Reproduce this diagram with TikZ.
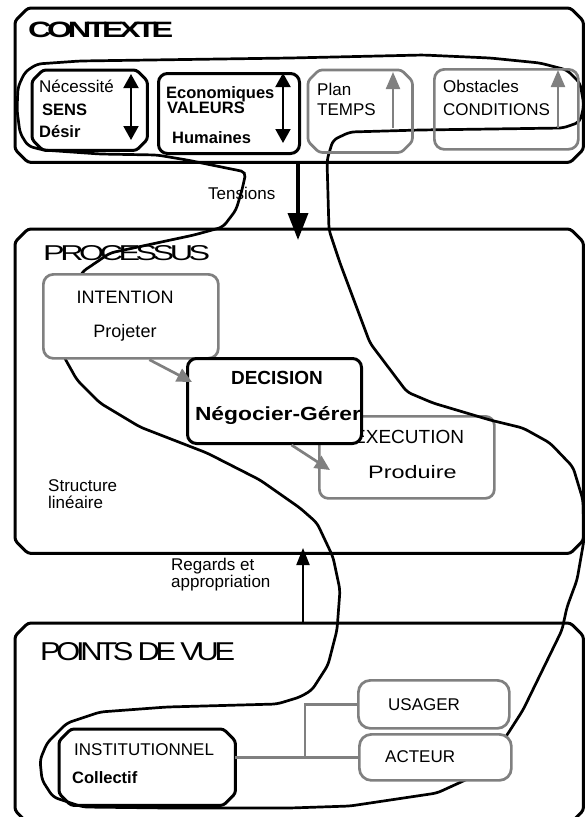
\documentclass[tikz,border=0pt]{standalone}
\usepackage{fontspec}
\setmainfont{Liberation Sans}
\usepackage{graphicx}
\usetikzlibrary{positioning,arrows.meta}
\definecolor{boxgray}{RGB}{128,128,128}

% Octagon-like frame round a named node
\newcommand\chambox[3][]{%
  \draw[rounded corners=3pt, #1] ([yshift=-#3]#2.north west) -- ([xshift=#3]#2.north west)
    -- ([xshift=-#3]#2.north east) -- ([yshift=-#3]#2.north east)
    -- ([yshift=#3]#2.south east) -- ([xshift=-#3]#2.south east)
    -- ([xshift=#3]#2.south west) -- ([yshift=#3]#2.south west) -- cycle;}

\begin{document}
\begin{tikzpicture}[
    x=1pt, y=-1pt,
    area/.style={rectangle, anchor=north west, inner sep=0pt},  % Frames drawn with \chambox
    bbox/.style={draw, line width=3pt, rounded corners=9pt, anchor=north west, inner sep=0pt},
    gbox/.style={draw=boxgray, line width=2.7pt, rounded corners=10pt, anchor=north west, inner sep=0pt},
    txt/.style={inner sep=0pt, anchor=base west, font=\fontsize{17}{17}\selectfont},
    btxt/.style={txt, font=\fontsize{16.5}{17}\selectfont\bfseries},
    title/.style={inner sep=0pt, anchor=base west, font=\fontsize{24}{24}\selectfont\addfontfeature{LetterSpace=-14}},
    loopline/.style={line width=2.7pt, rounded corners=5pt},
    darrow/.style={line width=2pt, {Triangle[length=14pt,width=15pt]}-{Triangle[length=14pt,width=15pt]}},
    uparrow/.style={boxgray, line width=2.2pt, -{Triangle[length=17pt,width=14pt]}},
    garrow/.style={boxgray, line width=2.7pt, -{Triangle[length=15pt,width=14pt]}},
    gline/.style={boxgray, line width=2.5pt}
    ]
    \useasboundingbox (0,0) rectangle (584,817);

    % Outer frames
    \node[area, minimum width=568pt, minimum height=154pt] (ctxbox) at (15,8) {};
    \node[area, minimum width=568pt, minimum height=324pt] (procbox) at (15,229) {};
    \node[area, minimum width=568pt, minimum height=200pt] (pdvbox) at (15,623) {};
    \chambox[line width=3pt]{ctxbox}{13pt}
    \chambox[line width=3pt]{procbox}{13pt}
    \chambox[line width=3pt]{pdvbox}{13pt}

    % Titles
    \node[title] (contexte) at (28,37) {\resizebox{145pt}{15.5pt}{\bfseries CONTEXTE}};
    \node[title] (processus) at (43,260) {\resizebox{167pt}{15pt}{PROCESSUS}};
    \node[title] (pdv) at (40,660) {\resizebox{195pt}{18pt}{POINTS DE VUE}};

    % EXECUTION sits under the decision box
    \node[gbox, rounded corners=9pt, minimum width=175pt, minimum height=82pt] (execution) at (318,415) {};
    \node[txt, font=\fontsize{19}{19}\selectfont] (exectxt) at (353,443) {EXECUTION};
    \node[txt, font=\fontsize{18}{18}\selectfont] (produire) at (368,478) {\scalebox{1.3}[1]{Produire}};

    % The hand-drawn contour
    \draw[loopline] (37,64) -- (80,61) -- (150,60) -- (290,58) -- (423,55) -- (490,58) -- (540,63)
        -- (567,70) -- (580,83) -- (584,105) -- (580,122) -- (563,128) -- (420,130) -- (350,132)
        -- (333,140) -- (327,160) -- (329,230) -- (340,263) -- (370,343) -- (407,392) -- (433,403)
        -- (490,420) -- (523,428) -- (550,443) -- (573,467) -- (583,500) -- (584,540) -- (577,580)
        -- (567,607) -- (562,630) -- (523,710) -- (507,735) -- (490,760) -- (472,777) -- (437,793)
        -- (350,806) -- (290,808) -- (167,808) -- (83,807) -- (53,797) -- (42,780) -- (40,760)
        -- (47,743) -- (67,723) -- (100,712) -- (167,707) -- (277,704) -- (300,697) -- (312,690)
        -- (328,665) -- (337,630) -- (340,590) -- (333,557) -- (317,523) -- (300,508) -- (260,480)
        -- (207,453) -- (140,427) -- (100,403) -- (77,380) -- (63,355) -- (70,300) -- (82,272)
        -- (110,253) -- (194,235) -- (223,227) -- (236,210) -- (242,190) -- (246,172) -- (187,160)
        -- (157,155) -- (100,154) -- (43,150) -- (28,146) -- (20,133) -- (17,110) -- (18,87)
        -- (25,72) -- cycle;

    % CONTEXTE row
    \node[area, minimum width=115pt, minimum height=80pt] (sens) at (32,70) {};
    \chambox[line width=3pt]{sens}{11pt}
    \node[txt] (necessite) at (39,92) {Nécessité};
    \node[btxt] (senstxt) at (42,115) {SENS};
    \node[btxt] (desir) at (39,137) {Désir};
    \draw[darrow] (131,74) -- (131,140);

    \node[bbox, minimum width=141pt, minimum height=80pt] (valeurs) at (157,72) {};
    \node[btxt] (economiques) at (166,98) {Economiques};
    \node[btxt] (valtxt) at (167,113) {VALEURS};
    \node[btxt] (humaines) at (172,143) {Humaines};
    \draw[darrow] (283,73) -- (283,143);

    \node[area, minimum width=104pt, minimum height=82pt] (temps) at (308,70) {};
    \chambox[boxgray, line width=2.7pt]{temps}{11pt}
    \node[txt] (plan) at (317,95) {Plan};
    \node[txt] (tempstxt) at (317,115) {TEMPS};
    \draw[uparrow] (393,128) -- (393,72);

    \node[gbox, minimum width=144pt, minimum height=80pt] (conditions) at (433,68) {};
    \node[txt] (obstacles) at (443,92) {Obstacles};
    \node[txt] (condtxt) at (443,115) {CONDITIONS};
    \draw[uparrow] (558,128) -- (558,70);

    % Tensions
    \coordinate (tenstip) at (298,240);
    \draw[line width=3.5pt, -{Triangle[length=27pt,width=20pt]}] (ctxbox.south -| tenstip) -- (tenstip);
    \node[txt] (tensions) at (208,199) {Tensions};

    % PROCESSUS
    \node[gbox, fill=white, minimum width=175pt, minimum height=84pt] (intention) at (42,273) {};
    \node[txt, anchor=base, font=\fontsize{18}{18}\selectfont] (inttxt) at (125,303) {INTENTION};
    \node[txt, anchor=base, font=\fontsize{18}{18}\selectfont] (projeter) at (125,337) {Projeter};

    \node[bbox, fill=white, minimum width=174pt, minimum height=85pt] (decision) at (186,357) {};
    \node[btxt, anchor=base, font=\fontsize{19}{19}\selectfont\bfseries] (dectxt) at (277,384) {DECISION};
    \node[btxt, anchor=base, font=\fontsize{19}{19}\selectfont\bfseries] (negocier) at (278,420) {\scalebox{1.2}[1]{Négocier-Gérer}};

    \draw[garrow] ([xshift=18.5pt]intention.south) -- ([xshift=6pt,yshift=-25pt]decision.north west);
    \draw[garrow] ([xshift=17pt]decision.south) -- ([xshift=12pt,yshift=-55pt]execution.north west);

    \node[txt, align=left, anchor=base west] (structure) at (48,508) {Structure\\linéaire};

    % Regards
    \coordinate (regtip) at (303,548);
    \draw[line width=2pt, -{Triangle[length=17pt,width=13pt]}] (pdvbox.north -| regtip) -- (regtip);
    \node[txt, align=left] (regards) at (171,587) {Regards et\\appropriation};

    % POINTS DE VUE
    \node[area, minimum width=176pt, minimum height=76pt] (institutionnel) at (59,729) {};
    \chambox[line width=3pt]{institutionnel}{12pt}
    \node[txt] (insttxt) at (74,755) {INSTITUTIONNEL};
    \node[btxt] (collectif) at (72,783) {Collectif};

    \node[gbox, rounded corners=12pt, minimum width=151pt, minimum height=48pt] (usager) at (357,679) {};
    \node[txt] (usagertxt) at (388,710) {USAGER};
    \node[gbox, fill=white, rounded corners=12pt, minimum width=152pt, minimum height=46pt] (acteur) at (358,733) {};
    \node[txt] (acteurtxt) at (385,762) {ACTEUR};

    \coordinate (fork) at (305,0);
    \draw[gline] (institutionnel.east |- acteur.west) -- (acteur.west);
    \draw[gline] (usager.west) -| (fork |- acteur.west);

\end{tikzpicture}
\end{document}
